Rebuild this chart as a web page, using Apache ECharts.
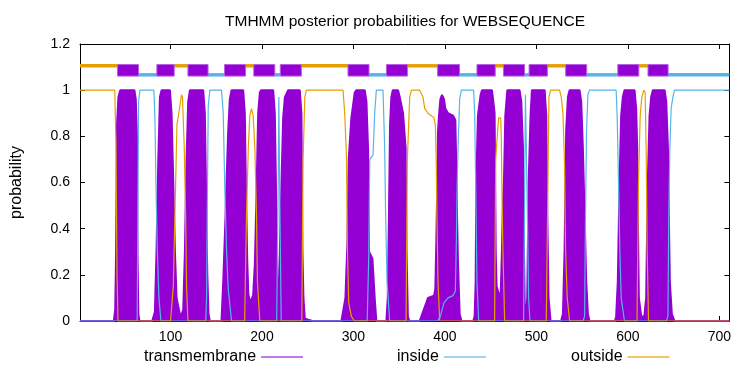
<!DOCTYPE html>
<html>
<head>
<meta charset="utf-8">
<title>TMHMM posterior probabilities</title>
<script src="https://cdn.jsdelivr.net/npm/echarts@6/dist/echarts.min.js"></script>
<style>
  html, body { margin: 0; padding: 0; background: #fff; }
  #chart { width: 734px; height: 365px; }
</style>
</head>
<body>
<div id="chart"></div>
<script>
const xTicks = [100, 200, 300, 400, 500, 600, 700];

// posterior probabilities, [residue, probability]
const transmembrane = [
  [1, 0], [38, 0], [39.5, 0.05], [40.5, 0.3], [41.5, 0.85], [43, 0.97], [45, 1], [60.5, 1], [62, 0.96], [63.2, 0.8], [63.8, 0.3], [64.8, 0.03], [66, 0],
  [80, 0], [82.9, 0.04], [84.7, 0.31], [86.6, 0.7], [88.4, 0.97], [90.2, 1], [99.3, 1], [101.1, 0.9], [103, 0.6], [104.8, 0.3], [106.6, 0.1], [110.2, 0.03], [111.5, 0.02],
  [113.9, 0.05], [115.7, 0.3], [117.5, 0.7], [119.3, 0.95], [121.2, 1], [135.7, 1], [137.5, 0.9], [138.7, 0.6], [139.4, 0.37], [140.2, 0.2], [141.5, 0.03], [143, 0],
  [155.7, 0], [157.6, 0.17], [160.1, 0.45], [161.2, 0.6], [163, 0.82], [164.8, 0.96], [166.7, 1], [179.4, 1], [181.2, 0.9], [182.3, 0.6], [183.8, 0.27], [185, 0.12],
  [186.7, 0.08], [188.5, 0.08], [190.3, 0.11], [192.2, 0.25], [194, 0.55], [195.8, 0.9], [197.6, 0.99], [199, 1], [212.2, 1], [214, 0.9], [215.8, 0.45], [216.9, 0.17],
  [218.4, 0.03], [219.5, 0.3], [221.3, 0.6], [223.1, 0.88], [225, 0.97], [228.6, 1], [241.3, 1], [243.1, 0.9], [244.2, 0.3], [245.3, 0.1], [246.8, 0.01], [255, 0],
  [286.8, 0], [288.6, 0.04], [291.2, 0.1], [293.4, 0.34], [294.8, 0.7], [297.7, 0.88], [301.4, 0.99], [303, 1], [312.3, 1], [314.2, 0.95], [316, 0.74], [317, 0.3],
  [320.7, 0.27], [323.2, 0.1], [325, 0],
  [336, 0], [337.5, 0.1], [338.5, 0.37], [340, 0.85], [341.4, 0.97], [343, 1], [348.7, 1], [350.6, 0.97], [354.2, 0.9], [357, 0.75], [358, 0.3], [359.5, 0.02], [361, 0],
  [372.4, 0], [376, 0.04], [379.7, 0.08], [381.5, 0.1], [388.1, 0.11], [389.5, 0.14], [390.6, 0.35], [391.7, 0.6], [392.4, 0.82], [393.5, 0.89], [395, 0.96],
  [396.8, 0.98], [399, 0.96], [400.4, 0.92], [403.4, 0.9], [408.8, 0.89], [411.4, 0.87], [412.5, 0.65], [413.2, 0.46], [414.3, 0.25], [416.1, 0.03], [418, 0],
  [431, 0], [432.5, 0.02], [433.6, 0.17], [434.3, 0.6], [436.1, 0.89], [439, 0.98], [440.5, 1], [451.4, 1], [452.9, 0.95], [454.3, 0.9], [455.5, 0.3], [456.5, 0.15],
  [458.7, 0.12], [461, 0.12], [462.3, 0.3], [463.4, 0.5], [464.5, 0.6], [466, 0.89], [468.2, 1], [481.6, 1], [483.5, 0.95], [485.3, 0.75], [486.4, 0.3], [487.3, 0.05],
  [488.5, 0.02], [490, 0.1], [491.5, 0.6], [493.6, 0.89], [495.1, 1], [509, 1], [510.8, 0.89], [511.9, 0.45], [513.3, 0.1], [515.5, 0],
  [527, 0], [529, 0.03], [530.8, 0.3], [532.6, 0.83], [534.5, 0.97], [536.3, 1], [547.2, 1], [549, 0.95], [550.8, 0.75], [552.7, 0.46], [554.5, 0.17], [556.3, 0.03], [558, 0],
  [586, 0], [587.2, 0.02], [589, 0.17], [590.9, 0.6], [592.7, 0.89], [594.5, 0.97], [596.3, 1], [607.3, 1], [609.1, 0.92], [610.2, 0.75], [610.9, 0.46], [612, 0.1],
  [614.6, 0.02], [618, 0.02], [620, 0.1], [621.8, 0.6], [623.7, 0.89], [625.5, 0.97], [627.3, 1], [640.2, 1], [642, 0.95], [643.8, 0.75], [644.8, 0.46], [645.9, 0.17],
  [648.1, 0.03], [651, 0], [711, 0]
];

const inside = [
  [1, 0], [63.5, 0], [64.3, 0.5], [65, 0.95], [66.5, 1], [81.8, 1], [82.9, 0.88], [84, 0.6], [85.5, 0.31], [87.3, 0.1], [89.5, 0],
  [138.5, 0], [139.4, 0.1], [140.2, 0.5], [141.2, 0.93], [143, 1], [155.7, 1], [157.6, 0.9], [159.4, 0.56], [161.2, 0.31], [163, 0.14], [166.7, 0],
  [216, 0], [217.5, 0.5], [218.4, 0.97], [219.5, 0.5], [221, 0],
  [315, 0], [316.7, 0.28], [317.8, 0.7], [321.4, 0.72], [323.2, 0.9], [325, 1], [332.3, 1], [334.1, 0.75], [335.2, 0.45], [336.7, 0.17], [339.6, 0],
  [392, 0], [395, 0.02], [399, 0.08], [403.4, 0.1], [408.8, 0.11], [411.4, 0.13], [412.5, 0.35], [413.2, 0.55], [414.3, 0.75], [416.1, 0.96], [417.9, 1],
  [431.4, 1], [432.5, 0.9], [433.6, 0.6], [435, 0.17], [436.9, 0],
  [486, 0], [487.3, 0.6], [488, 0.98], [489, 0.98], [490, 0.5], [491.5, 0.1], [493, 0],
  [551, 0], [552.7, 0.02], [553.7, 0.46], [554.8, 0.82], [556.3, 0.98], [558.1, 1], [587.2, 1], [588.3, 0.89], [589.8, 0.6], [591.2, 0.31], [592.7, 0.1], [596.3, 0],
  [642, 0], [643.8, 0.02], [644.8, 0.46], [645.9, 0.75], [647.3, 0.92], [649.2, 0.97], [651, 1], [711, 1]
];

const outside = [
  [1, 1], [39, 1], [40.3, 0.77], [41.5, 0.2], [42.5, 0],
  [100, 0], [103, 0.15], [105, 0.5], [107, 0.85], [109, 0.9], [112, 0.98], [113, 0.97], [115, 0.75], [116.5, 0.45], [117.5, 0.15], [119, 0],
  [181, 0], [183, 0.45], [185, 0.75], [186.7, 0.89], [188.5, 0.92], [190.3, 0.89], [192.2, 0.75], [194, 0.45], [195, 0.17], [197.6, 0],
  [243.5, 0], [244.9, 0.7], [246.8, 0.97], [248.6, 1], [288.6, 1], [290.4, 0.9], [292.3, 0.72], [293.4, 0.31], [294.8, 0.08], [297.7, 0.02], [301, 0],
  [357.5, 0], [358.9, 0.7], [361.5, 0.97], [363.3, 1], [372.4, 1], [376, 0.97], [377.9, 0.92], [381.5, 0.9], [388.1, 0.88], [389.5, 0.85], [390.6, 0.67],
  [391.3, 0.45], [392.4, 0.17], [394.3, 0],
  [454.3, 0], [455.5, 0.7], [457.2, 0.8], [458.7, 0.88], [460.9, 0.88], [461.6, 0.8], [462.3, 0.57], [463.4, 0.3], [465.3, 0],
  [510.8, 0], [512.6, 0.6], [513.7, 0.97], [515.5, 1], [525.3, 1], [527.2, 0.97], [529, 0.9], [530.8, 0.68], [531.9, 0.31], [533.7, 0.1], [536.3, 0],
  [610, 0], [611.6, 0.6], [613.5, 0.89], [615.3, 0.97], [617.5, 1], [618.9, 0.99], [620, 0.75], [621.1, 0.31], [622.6, 0],
  [711, 0]
];

// predicted topology, [start, end] residues
const tmSegments = [[42, 65], [85, 104], [119, 141], [159, 182], [191, 214], [220, 243], [294, 317], [336, 359],
  [392, 416], [435, 455], [464, 487], [492, 512], [532, 555], [589, 612], [622, 644]];
const insideSegments = [[65, 85], [141, 159], [214, 220], [317, 336], [416, 435], [487, 492], [555, 589], [644, 711]];
const outsideSegments = [[1, 42], [104, 119], [182, 191], [243, 294], [359, 392], [455, 464], [512, 532], [612, 622]];

const PURPLE = '#9400d3';
const BLUE = '#56b4e9';
const ORANGE = '#e69f00';
const FONT = 'Liberation Sans';

function bandSeries(segs, y0, y1, color, stroke, z) {
  return {
    type: 'custom',
    silent: true,
    z: z,
    encode: { x: [0, 1] },
    data: segs,
    renderItem: (params, api) => {
      const a = api.coord([api.value(0), y1]);
      const b = api.coord([api.value(1), y0]);
      return {
        type: 'rect',
        shape: { x: a[0], y: a[1], width: b[0] - a[0], height: b[1] - a[1] },
        style: { fill: color, stroke: stroke, lineWidth: stroke ? 1 : 0 }
      };
    }
  };
}

function probSeries(name, data, color, z, area) {
  const s = {
    name: name,
    type: 'line',
    data: data,
    z: z,
    silent: true,
    symbol: 'none',
    showSymbol: false,
    color: color,
    lineStyle: { color: color, width: area ? 2 : 1.2 }
  };
  if (area) s.areaStyle = { color: color, opacity: 1 };
  return s;
}

function legendAt(name, left, sample) {
  return {
    data: [{ name: name, itemStyle: { color: sample } }],
    left: left,
    top: 349,
    align: 'right',
    icon: 'rect',
    itemWidth: 42,
    itemHeight: 2,
    padding: 0,
    selectedMode: false,
    textStyle: { fontFamily: FONT, fontSize: 16, color: '#000' }
  };
}

const frameX = {
  type: 'value', min: 1, max: 711,
  axisLine: { show: true, onZero: false, lineStyle: { color: '#000', width: 1 } },
  axisTick: { show: true, inside: true, length: 5, customValues: xTicks, lineStyle: { color: '#000' } },
  splitLine: { show: false }
};
const frameY = {
  type: 'value', min: 0, max: 1.2, interval: 0.2,
  axisLine: { show: true, onZero: false, lineStyle: { color: '#000', width: 1 } },
  axisTick: { show: true, inside: true, length: 5, lineStyle: { color: '#000' } },
  splitLine: { show: false }
};

const chart = echarts.init(document.getElementById('chart'), null, { renderer: 'canvas' });
chart.setOption({
  animation: false,
  backgroundColor: '#fff',
  title: {
    text: 'TMHMM posterior probabilities for WEBSEQUENCE',
    left: 220, top: 9,
    textStyle: { fontFamily: FONT, fontSize: 15.5, fontWeight: 'normal', color: '#000' }
  },
  grid: { left: 80, right: 4, top: 44, bottom: 44 },
  legend: [
    legendAt('transmembrane', 144, '#c47ae6'),
    legendAt('inside', 397, '#9fd3f0'),
    legendAt('outside', 571, '#f0c666')
  ],
  xAxis: [
    Object.assign({}, frameX, {
      position: 'bottom',
      axisLabel: { show: true, customValues: xTicks, margin: 9, fontFamily: FONT, fontSize: 14, color: '#000' }
    }),
    Object.assign({}, frameX, { position: 'top', axisLabel: { show: false } })
  ],
  yAxis: [
    Object.assign({}, frameY, {
      position: 'left',
      name: 'probability', nameLocation: 'middle', nameGap: 55, nameRotate: 90,
      nameTextStyle: { fontFamily: FONT, fontSize: 16, color: '#000' },
      axisLabel: { show: true, margin: 10, fontFamily: FONT, fontSize: 14, color: '#000' }
    }),
    Object.assign({}, frameY, { position: 'right', axisLabel: { show: false } })
  ],
  series: [
    probSeries('transmembrane', transmembrane, PURPLE, 2, true),
    probSeries('inside', inside, BLUE, 3, false),
    probSeries('outside', outside, ORANGE, 4, false),
    bandSeries(outsideSegments, 1.098, 1.113, ORANGE, null, 5),
    bandSeries(insideSegments, 1.059, 1.074, BLUE, null, 5),
    bandSeries(tmSegments, 1.061, 1.111, PURPLE, '#b860e4', 6)
  ]
});
</script>
</body>
</html>
